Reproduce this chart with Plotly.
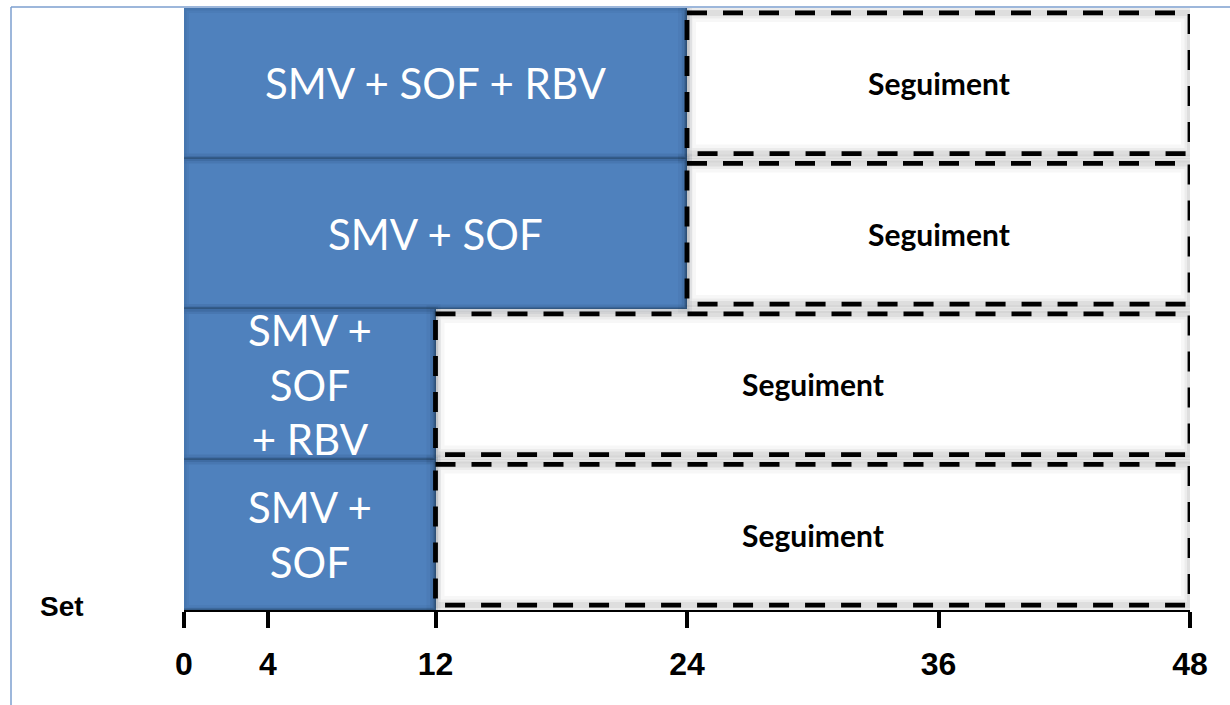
import numpy as np
import plotly.graph_objects as go

# Treatment arms, listed from the top row down
regimens = ["SMV + SOF + RBV", "SMV + SOF", "SMV + SOF + RBV", "SMV + SOF"]
regimen_labels = ["SMV + SOF + RBV", "SMV + SOF", "SMV +<br>SOF<br>+ RBV", "SMV +<br>SOF"]
treatment_weeks = [24, 24, 12, 12]
followup_end_week = 48
followup_label = "Seguiment"
tick_weeks = [0, 4, 12, 24, 36, 48]
axis_title = "Set"

W, H = 1230, 705
M_L, M_R, M_T, M_B = 184, 40, 8, 95
plot_w = W - M_L - M_R
plot_h = H - M_T - M_B

rows = np.arange(len(regimens))
treat = np.array(treatment_weeks, dtype=float)
followup = followup_end_week - treat

BLUE = "#4F81BD"

fig = go.Figure()

# Treatment period
fig.add_trace(go.Bar(
    orientation="h", y=rows, x=treat, base=0, width=1.0,
    marker=dict(color=BLUE, line=dict(color="#3a6594", width=1.5)),
    hovertext=regimens, hoverinfo="text+x", showlegend=False,
))

# Follow-up period
fig.add_trace(go.Bar(
    orientation="h", y=rows, x=followup, base=treat, width=1.0,
    marker=dict(color="white", line=dict(width=0)),
    hoverinfo="x", showlegend=False,
))

shapes = []
# darker bevel along the edges of the treatment blocks
for r, s in zip(rows, treat):
    for lw, a in [(10, 0.05), (5, 0.07)]:
        shapes.append(dict(type="rect", xref="x", yref="y", x0=0, x1=s,
                           y0=r - 0.5, y1=r + 0.5, layer="above",
                           line=dict(color=f"rgba(20,40,70,{a})", width=lw)))

inset = 0.033
for r, s in zip(rows, treat):
    y0, y1 = r - 0.5 + inset, r + 0.5 - inset
    # soft shading along the follow-up box edges
    for lw, a in [(18, 0.03), (11, 0.045), (6, 0.06)]:
        shapes.append(dict(type="rect", xref="x", yref="y", x0=s, x1=followup_end_week,
                           y0=y0, y1=y1, layer="above",
                           line=dict(color=f"rgba(0,0,0,{a})", width=lw)))
    shapes.append(dict(type="rect", xref="x", yref="y", x0=s, x1=followup_end_week,
                       y0=y0, y1=y1, layer="above",
                       line=dict(color="black", width=4.8, dash="20px,16px")))

# outer frame of the figure
fx0 = (11 - M_L) / plot_w
fy1 = 1 + (M_T - 7) / plot_h
shapes.append(dict(type="line", xref="paper", yref="paper", x0=fx0, x1=fx0,
                   y0=-M_B / plot_h - 0.05, y1=fy1, line=dict(color="#7d9fcf", width=1.5)))
shapes.append(dict(type="line", xref="paper", yref="paper", x0=fx0, x1=1 + M_R / plot_w + 0.05,
                   y0=fy1, y1=fy1, line=dict(color="#7d9fcf", width=1.5)))

annotations = []
for r, s, lab in zip(rows, treat, regimen_labels):
    annotations.append(dict(x=s / 2, y=r, xref="x", yref="y", text=lab, showarrow=False,
                            font=dict(family="Lato", size=42, color="white")))
for r, s, d in zip(rows, treat, followup):
    annotations.append(dict(x=s + d / 2, y=r, xref="x", yref="y", text=followup_label,
                            showarrow=False,
                            font=dict(family="Lato", size=30, color="black", weight="bold")))
annotations.append(dict(x=(62 - M_L) / plot_w, y=(M_T + plot_h - 606) / plot_h,
                        xref="paper", yref="paper", xanchor="center", yanchor="middle",
                        text=axis_title, showarrow=False,
                        font=dict(family="Liberation Sans", size=28, color="black", weight="bold")))

fig.update_layout(
    width=W, height=H,
    margin=dict(l=M_L, r=M_R, t=M_T, b=M_B),
    paper_bgcolor="white", plot_bgcolor="white",
    barmode="overlay", bargap=0,
    shapes=shapes, annotations=annotations,
    xaxis=dict(range=[0, followup_end_week], tickvals=tick_weeks,
               ticks="outside", ticklen=16, tickwidth=4, tickcolor="black",
               showline=True, linecolor="black", linewidth=2,
               showgrid=False, zeroline=False, ticklabelstandoff=9,
               tickfont=dict(family="Liberation Sans", size=32, color="black", weight="bold")),
    yaxis=dict(range=[len(rows) - 0.5, -0.5], visible=False, showgrid=False, zeroline=False),
)

fig.write_html("out.html")
